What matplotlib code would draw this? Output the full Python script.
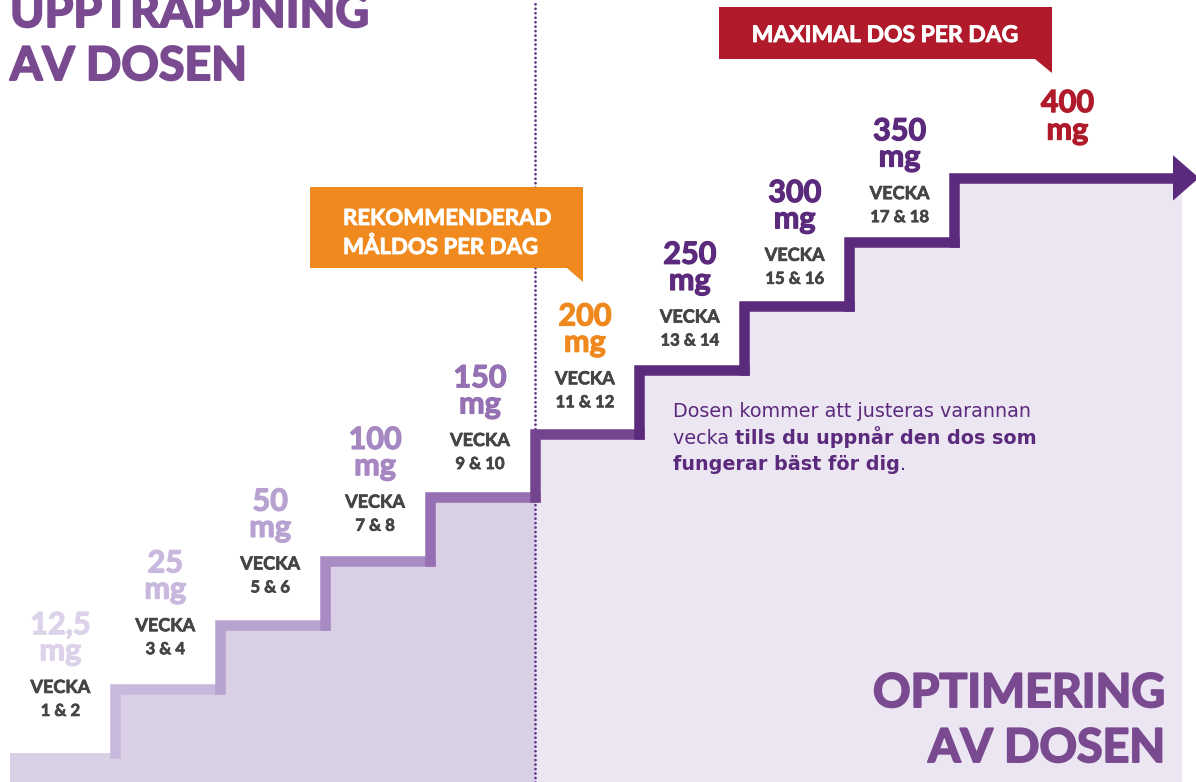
import numpy as np
import matplotlib
matplotlib.use("Agg")
import matplotlib.pyplot as plt
import matplotlib.transforms as mtransforms
import matplotlib.patheffects as pe
from matplotlib.patches import Polygon

plt.rcParams["font.family"] = ["Lato", "DejaVu Sans"]

# doses per two-week step
doses = ["12,5", "25", "50", "100", "150", "200", "250", "300", "350", "400"]
weeks = ["1 & 2", "3 & 4", "5 & 6", "7 & 8", "9 & 10",
         "11 & 12", "13 & 14", "15 & 16", "17 & 18", ""]
step_colors = ["#d9d0e6", "#c8b8dc", "#b8a2d0", "#a98bc4", "#9670b2",
               "#74458f", "#5c2a7c", "#5c2a7c", "#5c2a7c", "#5c2a7c"]
dose_colors = ["#dcd3ea", "#c9b8dd", "#b8a2d1", "#a687c2", "#9570b3",
               "#f0891d", "#5c2a7c", "#5c2a7c", "#5c2a7c", "#b01b2b"]
split_step = 5  # target dose step, start of optimisation phase


def heavy(w, c):
    # fake a heavier weight than the installed bold
    return [pe.withStroke(linewidth=w, foreground=c)]


W, H = 1196, 782
fig = plt.figure(figsize=(W / 100, H / 100), dpi=100)
ax = fig.add_axes([0, 0, 1, 1])
# one unit per step in both directions
ax.set_xlim((0 - 10) / 104.9, (W - 10) / 104.9)
ax.set_ylim((753 - H) / 63.9, 753 / 63.9)
ax.axis("off")

# pixel coordinates, origin top-left, for the decorations
pix = mtransforms.Affine2D().scale(1 / W, -1 / H).translate(0, 1) + fig.transFigure

n = len(doses)
levels = np.arange(n)
ybot = ax.get_ylim()[0]
x_end = (1182 - 10) / 104.9
arrow_base = (1173 - 10) / 104.9
arrow_tip = (1199 - 10) / 104.9

# shaded areas under the stairs
yl = np.append(levels[:split_step], levels[split_step - 1])
ax.fill_between(np.arange(split_step + 1), ybot, yl, step="post",
                color="#d9d0e6", lw=0, zorder=1)
xr = np.append(levels[split_step:], x_end)
yr = np.append(levels[split_step:], levels[-1])
ax.fill_between(xr, ybot, yr, step="post", color="#ece6f3", lw=0, zorder=1)

# dotted divider
ax.axvline(split_step, color="#62328a", lw=2.0, ls=(0, (0.01, 1.6)),
           dash_capstyle="round", zorder=2)

# stair line
lw = 10.5 * 72 / 100
for i in levels:
    if i == 0:
        xs, ys = [0.1, 1], [-0.09, -0.09]
    elif i == n - 1:
        xs, ys = [i, i, arrow_base], [i - 1, i, i]
    else:
        xs, ys = [i, i, i + 1], [i - 1, i, i]
    ax.plot(xs, ys, color=step_colors[i], lw=lw, solid_capstyle="projecting",
            solid_joinstyle="miter", zorder=3 + i * 0.01)
ax.add_patch(Polygon([(arrow_base, n - 1 + 0.355), (arrow_base, n - 1 - 0.355),
                      (arrow_tip, n - 1)], closed=True, color=step_colors[-1],
                     lw=0, zorder=4))

# dose / week labels
grey = "#454545"
for i in levels:
    c = dose_colors[i]
    if i == n - 1:
        cx = i + 1.08
        ax.text(cx, i + 1.03, doses[i], ha="center", va="baseline", fontsize=22,
                fontweight="bold", color=c, zorder=5, path_effects=heavy(0.9, c))
        ax.text(cx, i + 0.6, "mg", ha="center", va="baseline", fontsize=22,
                fontweight="bold", color=c, zorder=5, path_effects=heavy(0.9, c))
        continue
    cx = i + 0.48
    top = i + 1.86 - 0.034 * i
    ax.text(cx, top, doses[i], ha="center", va="baseline", fontsize=22,
            fontweight="bold", color=c, zorder=5, path_effects=heavy(0.9, c))
    ax.text(cx, top - 0.41, "mg", ha="center", va="baseline", fontsize=22,
            fontweight="bold", color=c, zorder=5, path_effects=heavy(0.9, c))
    ax.text(cx, top - 0.92, "VECKA", ha="center", va="baseline", fontsize=13,
            fontweight="bold", color=grey, zorder=5, path_effects=heavy(0.5, grey))
    ax.text(cx, top - 1.28, weeks[i], ha="center", va="baseline", fontsize=12,
            fontweight="bold", color=grey, zorder=5, path_effects=heavy(0.5, grey))

# section titles
title_c = "#7a4a91"
title_kw = dict(transform=pix, fontsize=33.5, fontweight="bold", color=title_c,
                va="baseline", path_effects=heavy(1.4, title_c))
fig.text(10, 27, "UPPTRAPPNING", ha="left", **title_kw)
fig.text(10, 80, "AV DOSEN", ha="left", **title_kw)
fig.text(1165, 707, "OPTIMERING", ha="right", **title_kw)
fig.text(1165, 762, "AV DOSEN", ha="right", **title_kw)

# callouts
orange = "#f08a1e"
fig.patches.append(Polygon([(310, 187), (583, 187), (583, 282), (567, 268), (310, 268)],
                           closed=True, color=orange, lw=0, transform=pix))
fig.text(343, 225, "REKOMMENDERAD", transform=pix, fontsize=16, fontweight="bold",
         color="white", ha="left", va="baseline", path_effects=heavy(0.6, "white"))
fig.text(343, 254, "MÅLDOS PER DAG", transform=pix, fontsize=16, fontweight="bold",
         color="white", ha="left", va="baseline", path_effects=heavy(0.6, "white"))

red = "#b01a2a"
fig.patches.append(Polygon([(719, 7), (1052, 7), (1052, 73), (1035, 59), (719, 59)],
                           closed=True, color=red, lw=0, transform=pix))
fig.text(885, 42, "MAXIMAL DOS PER DAG", transform=pix, fontsize=16.5, fontweight="bold",
         color="white", ha="center", va="baseline", path_effects=heavy(0.6, "white"))

# explanatory text
body = "#5c2a7c"
body_font = ["DejaVu Sans"]
fs = 13.8
fig.text(673, 417, "Dosen kommer att justeras varannan", transform=pix, fontsize=fs,
         family=body_font, color=body, ha="left", va="baseline")
t2 = fig.text(673, 444, "vecka ", transform=pix, fontsize=fs, family=body_font,
              color=body, ha="left", va="baseline")
ax.annotate("tills du uppnår den dos som", xy=(1, 0), xycoords=t2, fontsize=fs,
            family=body_font, fontweight="bold", color=body, ha="left", va="bottom")
t3 = fig.text(673, 470, "fungerar bäst för dig", transform=pix, fontsize=fs,
              family=body_font, fontweight="bold", color=body, ha="left", va="baseline")
ax.annotate(".", xy=(1, 0), xycoords=t3, fontsize=fs, family=body_font, color=body,
            ha="left", va="bottom")

fig.savefig("out.png", dpi=100, facecolor="white")
